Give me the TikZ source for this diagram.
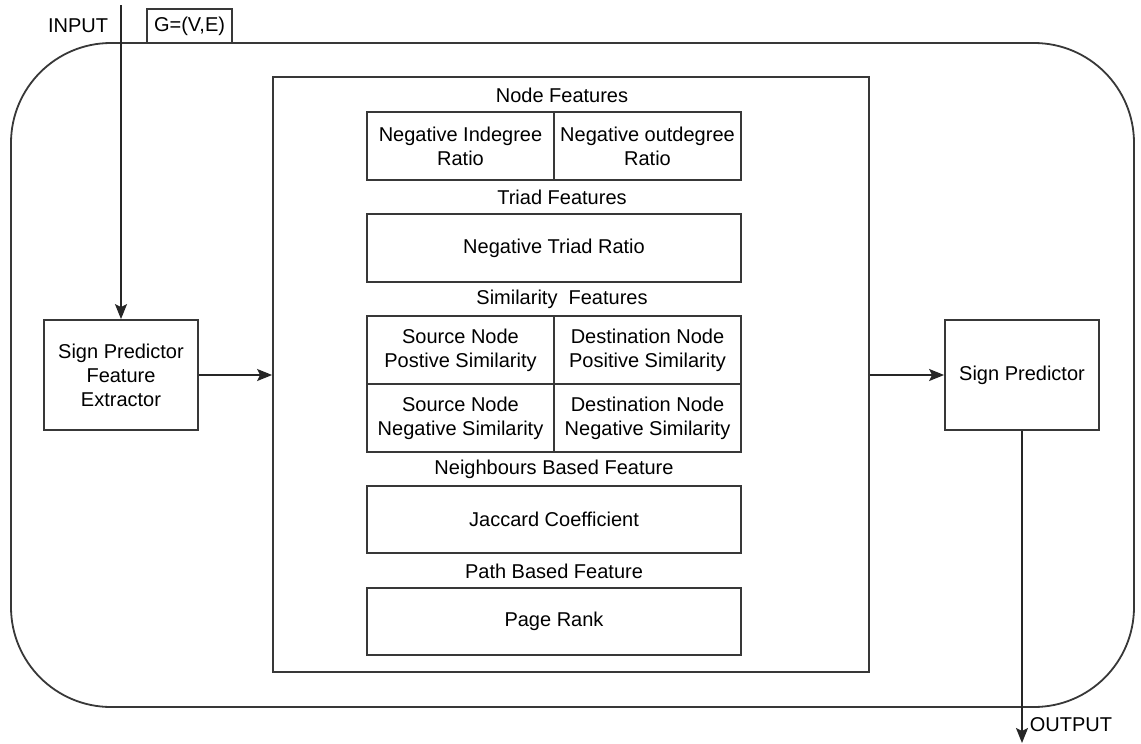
\documentclass[tikz,border=0pt]{standalone}
\usepackage{fontspec}
\setmainfont{Liberation Sans}
\usetikzlibrary{arrows.meta}
\newcommand\dfont{\fontsize{20}{24}\selectfont}
\begin{document}
\begin{tikzpicture}[x=1pt,y=-1pt,
  box/.style={draw=black!78, line width=1.8pt, rectangle, inner sep=0pt, align=center, font=\dfont},
  lbl/.style={inner sep=0pt, font=\dfont, align=center},
  arr/.style={draw=black!85, line width=1.7pt, -{Stealth[length=15pt,width=12pt,inset=3pt]}}
]
\useasboundingbox (0,0) rectangle (1141,744);
\fill[white] (0,0) rectangle (1141,744);

% outer container
\node[box, rounded corners=100pt, minimum width=1123pt, minimum height=664pt] (outer) at (572.5,375) {};
% inner feature panel
\node[box, minimum width=596pt, minimum height=595pt] (inner) at (571,374.5) {};

% top labels
\node[lbl] (input) at (78,26) {INPUT};
\node[box, fill=white, minimum width=85pt, minimum height=34pt] (gve) at (189.5,26) {G=(V,E)};

% side boxes
\node[box, minimum width=154pt, minimum height=110pt] (spfe) at (121,375) {Sign Predictor\\Feature\\Extractor};
\node[box, minimum width=154pt, minimum height=110pt] (sp) at (1022,375) {Sign Predictor};

% node features
\node[lbl] (nfl) at (562,95) {Node Features};
\node[box, minimum width=187pt, minimum height=68pt] (nin) at (460.5,146) {Negative Indegree\\Ratio};
\node[box, minimum width=187pt, minimum height=68pt] (nout) at (647.5,146) {Negative outdegree\\Ratio};

% triad
\node[lbl] (tfl) at (562,197) {Triad Features};
\node[box, minimum width=374pt, minimum height=68pt] (triad) at (554,248) {Negative Triad Ratio};

% similarity
\node[lbl] (sfl) at (562,299) {Similarity\ \ Features};
\node[box, minimum width=187pt, minimum height=68pt] (sps) at (460.5,350) {Source Node\\Postive Similarity};
\node[box, minimum width=187pt, minimum height=68pt] (dps) at (647.5,350) {Destination Node\\Positive Similarity};
\node[box, minimum width=187pt, minimum height=68pt] (sns) at (460.5,418) {Source Node\\Negative Similarity};
\node[box, minimum width=187pt, minimum height=68pt] (dns) at (647.5,418) {Destination Node\\Negative Similarity};

% neighbours
\node[lbl] (nbl) at (554,469) {Neighbours Based Feature};
\node[box, minimum width=374pt, minimum height=67pt] (jac) at (554,519.5) {Jaccard Coefficient};

% path
\node[lbl] (pbl) at (554,571) {Path Based Feature};
\node[box, minimum width=374pt, minimum height=67pt] (pr) at (554,621.5) {Page Rank};

% connectors
\coordinate (instart) at (121,5);
\draw[arr] (instart) -- (spfe.north);
\draw[arr] (spfe.east) -- (spfe.east -| inner.west);
\draw[arr] (sp.west -| inner.east) -- (sp.west);
\coordinate (outend) at (1022,743);
\draw[arr] (sp.south) -- (outend);
\node[lbl] (output) at (1071,725) {OUTPUT};
\end{tikzpicture}
\end{document}
